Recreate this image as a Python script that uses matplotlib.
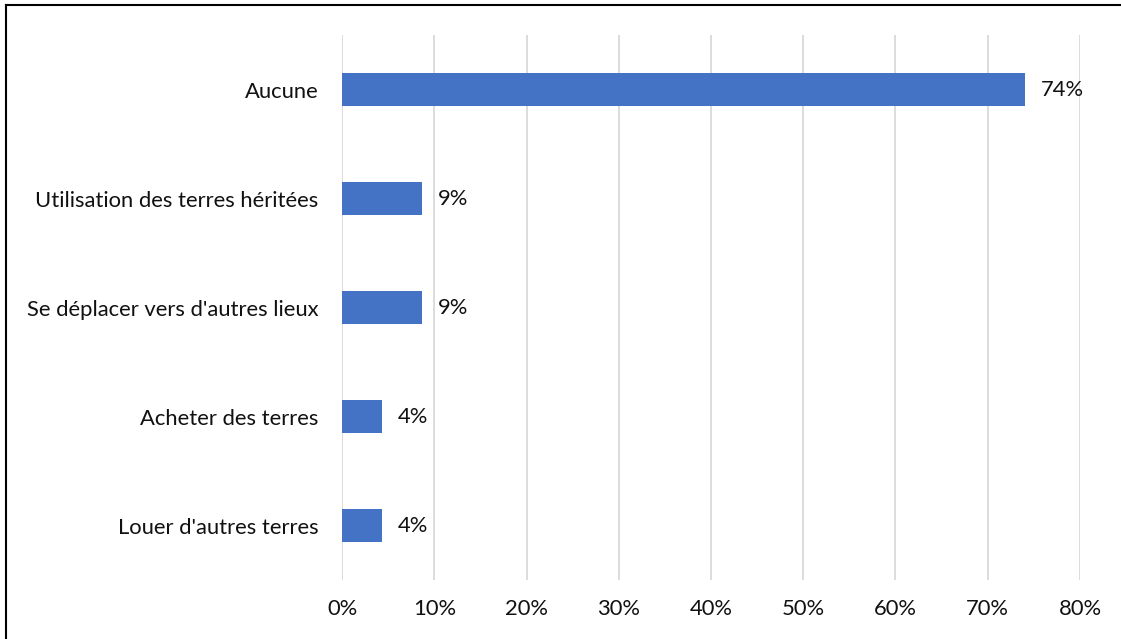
import matplotlib.pyplot as plt
from matplotlib.lines import Line2D
from matplotlib.ticker import FuncFormatter

categories = ['Aucune', 'Utilisation des terres héritées', "Se déplacer vers d'autres lieux",
              'Acheter des terres', "Louer d'autres terres"]
values = [74.0, 8.7, 8.7, 4.35, 4.35]
labels = ['74%', '9%', '9%', '4%', '4%']
xticks = [0, 10, 20, 30, 40, 50, 60, 70, 80]

plt.rcParams['font.family'] = ['Lato', 'DejaVu Sans']
fs = 15.8
txt = '#111111'

fig = plt.figure(figsize=(11.21, 6.39), dpi=100)
ax = fig.add_axes([0.3051, 0.0923, 0.6583, 0.8529])

ypos = list(range(len(categories)))
ax.barh(ypos, values, height=0.31, color='#4472C4', zorder=3)
for y, v, lab in zip(ypos, values, labels):
    ax.annotate(lab, (v, y), xytext=(11.5, 0), textcoords='offset points',
                va='center', ha='left', fontsize=fs, color=txt)

ax.set_xlim(0, 80)
ax.set_ylim(4.5, -0.5)
ax.set_yticks(ypos)
ax.set_yticklabels(categories, fontsize=fs, color=txt)
ax.set_xticks(xticks)
ax.xaxis.set_major_formatter(FuncFormatter(lambda v, p: f'{int(v)}%'))
ax.tick_params(axis='x', labelsize=fs, colors=txt, length=0, pad=14)
ax.tick_params(axis='y', length=0, pad=17)
ax.grid(axis='x', color='#D9D9D9', linewidth=1.3, zorder=0)
for s in ax.spines.values():
    s.set_visible(False)

# outer frame (left and top edges only visible)
fig.add_artist(Line2D([0.005, 0.005], [0, 0.992], transform=fig.transFigure, color='black', lw=1.5))
fig.add_artist(Line2D([0.005, 1], [0.992, 0.992], transform=fig.transFigure, color='black', lw=1.5))

fig.savefig('out.png', dpi=100)
